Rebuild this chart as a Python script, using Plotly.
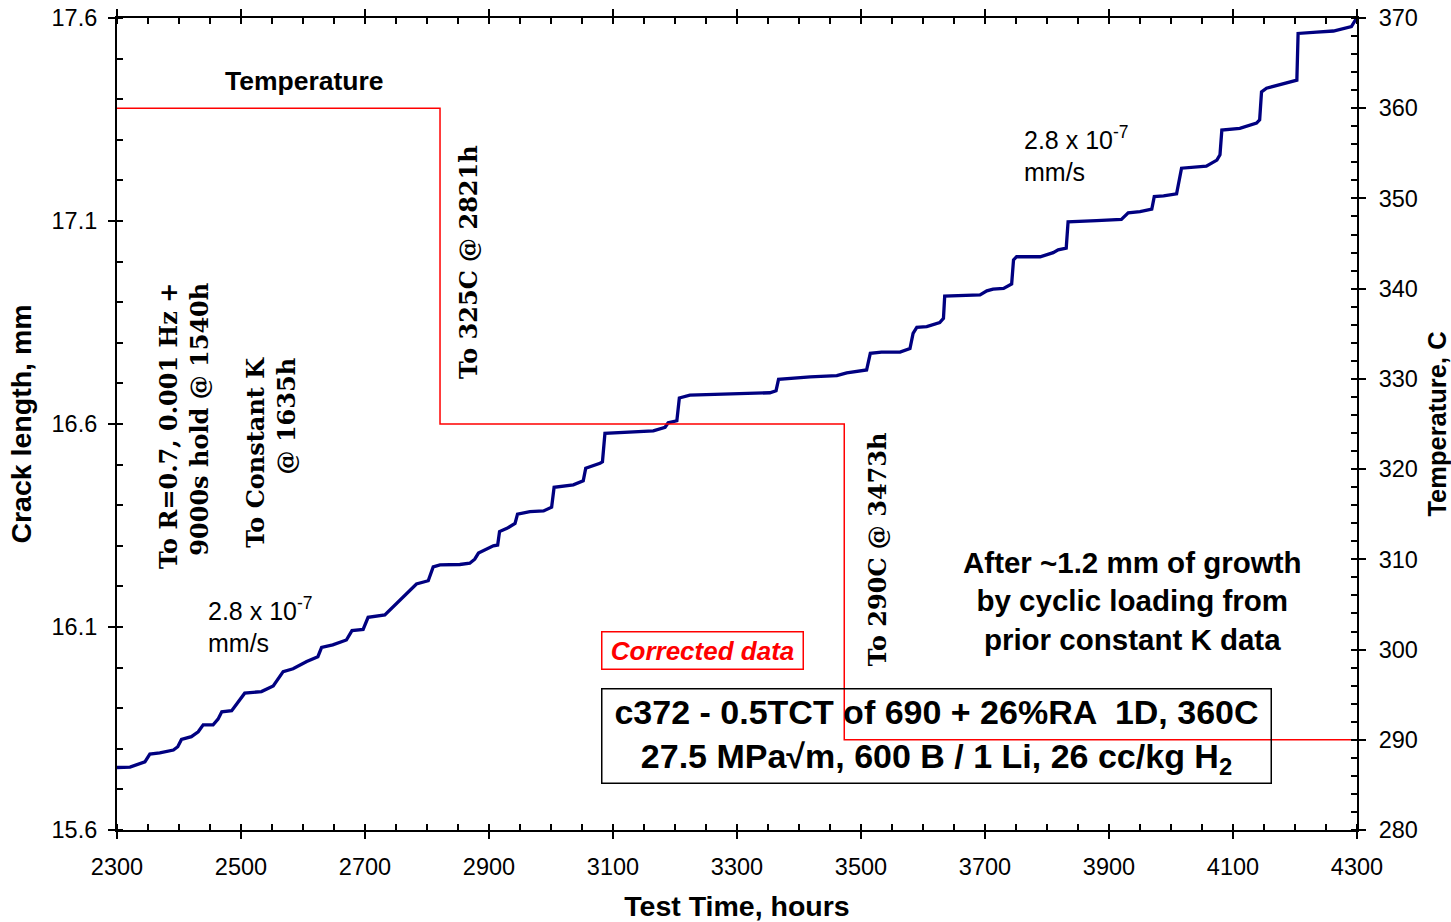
import plotly.graph_objects as go

# Crack length record (hours, mm)
time_h = [2300, 2321, 2345, 2353, 2369, 2391, 2398, 2404, 2420, 2431, 2439, 2455, 2463, 2469,
          2485, 2495, 2506, 2533, 2552, 2568, 2584, 2606, 2624, 2630, 2648, 2670, 2679, 2697,
          2705, 2732, 2751, 2767, 2783, 2802, 2810, 2821, 2853, 2869, 2877, 2883, 2894, 2907,
          2914, 2917, 2929, 2942, 2946, 2966, 2988, 3001, 3005, 3036, 3052, 3056, 3079, 3083,
          3087, 3111, 3165, 3184, 3189, 3203, 3207, 3224, 3321, 3353, 3363, 3367, 3418, 3461,
          3477, 3509, 3515, 3533, 3563, 3579, 3584, 3590, 3606, 3627, 3633, 3635, 3692, 3703,
          3713, 3730, 3743, 3746, 3751, 3789, 3810, 3818, 3831, 3834, 3880, 3920, 3931, 3950,
          3969, 3973, 3988, 4009, 4017, 4057, 4074, 4079, 4082, 4111, 4138, 4143, 4146, 4154,
          4203, 4205, 4235, 4262, 4291, 4299]
crack_mm = [15.754, 15.755, 15.768, 15.787, 15.790, 15.797, 15.805, 15.823, 15.830, 15.842,
            15.859, 15.859, 15.873, 15.891, 15.894, 15.916, 15.937, 15.941, 15.955, 15.990,
            15.997, 16.015, 16.027, 16.050, 16.056, 16.068, 16.091, 16.094, 16.124, 16.130,
            16.158, 16.183, 16.206, 16.214, 16.248, 16.253, 16.254, 16.257, 16.267, 16.282,
            16.290, 16.300, 16.302, 16.335, 16.343, 16.355, 16.378, 16.384, 16.386, 16.395,
            16.444, 16.450, 16.460, 16.491, 16.503, 16.507, 16.577, 16.579, 16.583, 16.592,
            16.603, 16.608, 16.664, 16.671, 16.674, 16.677, 16.682, 16.710, 16.716, 16.719,
            16.726, 16.733, 16.774, 16.777, 16.777, 16.786, 16.823, 16.838, 16.840, 16.850,
            16.860, 16.915, 16.918, 16.928, 16.932, 16.934, 16.945, 17.004, 17.012, 17.012,
            17.022, 17.029, 17.033, 17.098, 17.101, 17.104, 17.120, 17.123, 17.129, 17.160,
            17.162, 17.167, 17.230, 17.235, 17.250, 17.263, 17.324, 17.328, 17.341, 17.349,
            17.418, 17.427, 17.447, 17.562, 17.565, 17.568, 17.579, 17.599]

# Test temperature history (hours, C)
temp_time = [2300, 2821, 2821, 3473, 3473, 4300]
temp_c = [360, 360, 325, 325, 290, 290]

x_range = [2300, 4300]
crack_range = [15.6, 17.6]
temp_range = [280, 370]

SANS = "Liberation Sans, Arial, sans-serif"
SERIF = "DejaVu Serif, serif"
tick_font = dict(family=SANS, size=23.5, color="black")

fig = go.Figure()
fig.add_trace(go.Scatter(x=time_h, y=crack_mm, mode="lines",
                         line=dict(color="#000080", width=3.3), xaxis="x", yaxis="y",
                         showlegend=False))
fig.add_trace(go.Scatter(x=temp_time, y=temp_c, mode="lines",
                         line=dict(color="#FF0000", width=1.5), xaxis="x", yaxis="y2",
                         showlegend=False))

common = dict(showgrid=False, zeroline=False, tickcolor="black", tickwidth=1.5,
              automargin=False)

fig.update_layout(
    width=1451, height=922,
    margin=dict(l=117, r=94, t=18, b=92),
    paper_bgcolor="white", plot_bgcolor="white",
    xaxis=dict(range=x_range, tick0=2300, dtick=200, ticks="outside", ticklen=7,
               showline=True, linewidth=2, linecolor="black", mirror="ticks",
               tickfont=tick_font, ticklabelstandoff=8,
               minor=dict(ticks="inside", ticklen=6, tickwidth=1.5, tickcolor="black",
                          tick0=2300, dtick=50, showgrid=False),
               title=dict(text="<b>Test Time, hours</b>", standoff=18,
                          font=dict(family=SANS, size=28.5, color="black")),
               **common),
    xaxis3=dict(range=x_range, overlaying="x", anchor="y", side="bottom",
                tick0=2300, dtick=200, ticks="inside", ticklen=7, mirror="ticks",
                showticklabels=False, showline=False, **common),
    yaxis=dict(range=crack_range, tick0=15.6, dtick=0.5, tickformat=".1f",
               ticks="outside", ticklen=7, showline=True, linewidth=2, linecolor="black",
               tickfont=tick_font, ticklabelstandoff=6,
               minor=dict(ticks="inside", ticklen=6, tickwidth=1.5, tickcolor="black",
                          tick0=15.6, dtick=0.1, showgrid=False),
               title=dict(text="<b>Crack length, mm</b>", standoff=12,
                          font=dict(family=SANS, size=28.5, color="black")),
               **common),
    yaxis2=dict(range=temp_range, overlaying="y", side="right", anchor="x",
                tick0=280, dtick=10, ticks="outside", ticklen=7,
                showline=True, linewidth=2, linecolor="black",
                tickfont=tick_font, ticklabelstandoff=8,
                minor=dict(ticks="inside", ticklen=6, tickwidth=1.5, tickcolor="black",
                           tick0=280, dtick=2, showgrid=False),
                title=dict(text="<b>Temperature, C</b>", standoff=16,
                           font=dict(family=SANS, size=25.5, color="black")),
                **common),
    yaxis3=dict(range=crack_range, overlaying="y", side="left", anchor="x",
                tick0=15.6, dtick=0.5, ticks="inside", ticklen=7,
                showticklabels=False, showline=False, **common),
    yaxis4=dict(range=temp_range, overlaying="y", side="right", anchor="x",
                tick0=280, dtick=10, ticks="inside", ticklen=7,
                showticklabels=False, showline=False, **common),
)

serif_bold = dict(family=SERIF, size=24, color="black")
annotations = [
    dict(x=2603, y=17.445, text="<b>Temperature</b>",
         font=dict(family=SANS, size=26.5, color="black")),
    dict(x=2408, y=16.595, text="<b>To R=0.7, 0.001 Hz +<br>9000s hold @ 1540h</b>",
         textangle=-90, align="right", font=serif_bold),
    dict(x=2548, y=16.531, text="<b>To Constant K<br>@ 1635h</b>",
         textangle=-90, align="right", font=serif_bold),
    dict(x=2866, y=16.999, text="<b>To 325C @ 2821h</b>", textangle=-90, font=serif_bold),
    dict(x=3526, y=16.292, text="<b>To 290C @ 3473h</b>", textangle=-90, font=serif_bold),
    dict(x=2443, y=16.105, text="2.8 x 10<sup>-7</sup><br>mm/s", xanchor="left",
         align="left", font=dict(family=SANS, size=25, color="black")),
    dict(x=3760, y=17.265, text="2.8 x 10<sup>-7</sup><br>mm/s", xanchor="left",
         align="left", font=dict(family=SANS, size=25, color="black")),
    dict(x=3937, y=16.164,
         text="<b>After ~1.2 mm of growth<br>by cyclic loading from<br>prior constant K data</b>",
         font=dict(family=SANS, size=29.5, color="black")),
    dict(x=3245, y=16.043, text="<b><i>Corrected data</i></b>",
         font=dict(family=SANS, size=26, color="#FF0000"), width=194,
         bordercolor="#FF0000", borderwidth=1.5, borderpad=3),
    dict(x=3622, y=15.831,
         text="<b>c372 - 0.5TCT of 690 + 26%RA  1D, 360C<br>"
              "27.5 MPa√m, 600 B / 1 Li, 26 cc/kg H<sub>2</sub></b>",
         font=dict(family=SANS, size=34, color="black"), width=662,
         bordercolor="black", borderwidth=1.5, borderpad=3),
]
for a in annotations:
    a.setdefault("xref", "x")
    a.setdefault("yref", "y")
    a.setdefault("showarrow", False)
    fig.add_annotation(**a)

fig.write_html("out.html")
